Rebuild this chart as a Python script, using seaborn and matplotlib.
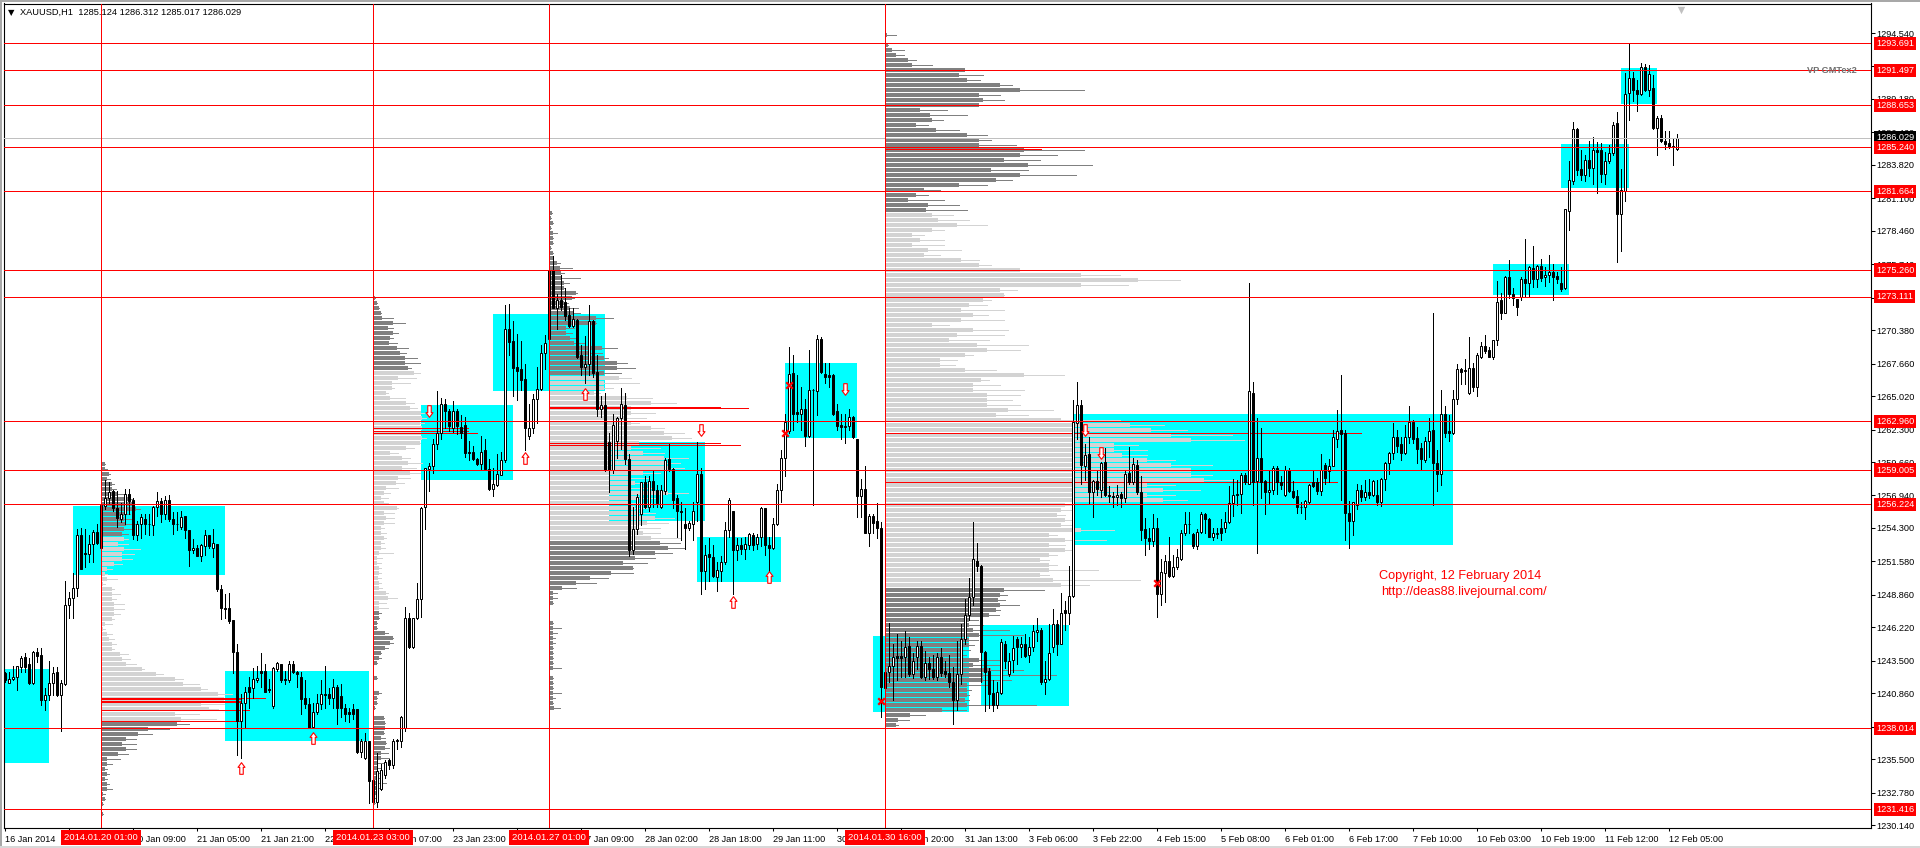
# XAUUSD H1 chart with volume profiles, rebuilt with seaborn
import numpy as np
import pandas as pd
import matplotlib
matplotlib.use("Agg")
import matplotlib.pyplot as plt
from matplotlib.path import Path
from matplotlib.patches import Rectangle
import seaborn as sns

sns.set_theme(style="ticks")
plt.rcParams['font.family'] = ['Liberation Sans', 'DejaVu Sans']

# quotes are kept as the part above 1200
PRICE_BASE = 1200

opens = [42.5,41.7,42.0,42.2,43.0,43.8,43.2,41.7,44.2,44.0,
40.3,40.7,41.7,42.6,40.7,41.6,48.0,48.6,49.4,53.7,
52.3,52.2,53.0,54.0,52.7,56.1,56.7,57.3,55.9,55.0,
55.4,57.1,56.6,53.7,54.6,55.0,54.6,54.5,56.0,56.5,
55.4,56.6,55.0,54.6,54.4,55.3,54.1,52.5,52.7,52.0,
52.8,53.7,52.7,53.0,49.3,47.8,47.8,46.8,44.2,38.6,
40.1,41.4,41.3,41.9,42.7,42.7,41.2,39.8,42.8,43.2,
42.0,41.9,43.2,42.6,42.2,40.5,40.0,38.1,39.3,40.0,
40.8,40.8,40.5,41.4,40.6,39.7,39.3,39.6,39.6,36.1,
35.6,37.0,33.8,32.0,33.1,34.2,35.4,35.0,37.0,37.0,
38.0,47.0,44.6,47.0,48.5,56.0,59.1,59.3,61.1,62.0,
64.4,63.8,62.4,63.8,62.5,62.7,60.5,60.5,59.9,59.5,
60.6,59.1,57.5,57.8,58.6,59.8,70.5,69.5,67.4,67.2,
66.4,61.8,62.4,64.8,65.6,68.5,69.7,75.3,72.2,72.8,
72.7,71.6,70.7,71.2,68.4,67.4,67.6,71.1,67.0,64.0,
64.3,61.3,59.0,61.4,63.2,64.3,59.9,52.5,54.2,55.4,
58.0,56.0,58.1,57.4,56.0,57.3,59.9,59.1,56.7,55.7,
54.6,54.3,54.6,56.4,58.7,50.8,52.2,51.9,50.3,50.8,
51.5,54.1,55.7,52.5,52.9,52.6,52.9,53.7,53.0,53.6,
55.9,52.9,52.7,54.6,57.4,60.0,62.2,66.9,63.7,63.6,
64.0,61.8,65.5,65.4,69.7,66.8,66.7,66.7,63.8,62.7,
62.5,62.6,63.3,61.5,56.9,57.5,53.9,55.3,54.9,54.3,
41.3,42.6,43.1,43.9,43.9,43.8,44.7,42.4,43.8,44.7,
42.2,43.3,42.8,42.2,43.8,42.7,42.5,41.8,40.3,42.4,
45.3,47.2,48.7,51.6,51.2,44.2,42.7,40.9,39.9,40.9,
44.9,42.4,43.6,45.3,44.6,44.9,44.0,44.6,45.8,46.0,
41.8,42.0,44.6,46.5,44.9,47.6,47.4,48.8,62.8,64.3,
59.3,60.3,57.2,58.1,57.4,59.7,57.0,56.9,56.8,57.1,
56.7,58.8,58.0,59.4,57.2,54.2,53.5,53.2,54.3,48.9,
50.6,51.6,50.4,51.1,51.8,53.9,54.6,53.8,52.8,54.0,
55.4,55.0,53.6,53.8,54.3,54.3,54.8,56.3,57.1,57.1,
58.6,57.9,65.3,58.1,60.0,58.1,57.2,57.4,59.2,58.0,
57.0,59.0,57.3,56.9,56.0,56.0,56.4,58.0,58.0,57.3,
59.4,58.9,59.3,61.5,62.3,62.0,55.5,54.9,56.2,57.4,
56.8,57.2,57.0,57.0,56.4,58.3,59.6,60.4,61.7,61.1,
60.4,61.7,62.9,61.6,60.8,59.8,61.4,62.3,59.6,58.7,
63.6,62.2,62.0,64.8,67.2,67.1,65.3,67.3,65.8,68.2,
69.1,68.8,68.2,69.6,72.8,71.8,74.7,73.3,72.9,73.1,
74.5,74.2,75.4,74.5,75.6,74.7,74.9,75.1,74.8,74.2,
73.8,80.1,82.5,86.7,83.5,83.0,84.2,83.6,85.0,85.0,
83.1,84.1,84.8,87.2,79.8,81.7,89.7,90.9,89.9,89.6,
91.8,89.9,90.1,86.8,87.6,85.8,85.6,85.3,85.12]

highs = [42.6,42.6,43.1,43.1,43.9,44.1,43.7,44.3,44.5,44.5,
41.3,43.5,43.0,43.0,41.9,50.0,49.1,50.6,54.2,54.3,
54.2,53.7,54.1,54.6,56.3,58.2,58.0,57.4,57.3,56.3,
57.5,57.5,56.7,54.9,55.4,55.4,55.4,56.1,57.2,56.7,
56.9,57.0,55.6,55.6,55.7,55.3,54.1,53.4,52.9,53.0,
54.1,53.7,54.2,53.0,49.7,48.9,49.0,46.8,44.9,40.8,
41.4,42.2,42.9,43.1,44.1,43.2,42.0,43.0,43.4,43.2,
42.7,43.5,43.5,42.7,42.6,41.9,40.5,40.1,40.8,41.9,
43.1,41.3,42.0,41.5,41.6,40.0,39.7,40.0,39.6,37.1,
37.6,37.0,35.1,36.0,35.1,35.4,35.5,37.1,37.1,39.0,
47.9,47.4,47.0,49.8,56.0,59.2,59.6,61.5,65.4,64.9,
64.8,64.0,64.6,64.0,63.5,63.3,61.4,61.0,60.0,61.8,
61.5,59.9,59.2,60.3,60.5,72.4,72.5,71.1,70.1,69.5,
67.6,64.4,65.2,67.4,69.2,70.0,75.4,76.4,73.3,74.9,
73.8,72.2,72.2,71.3,69.2,69.9,72.4,71.2,68.4,65.0,
65.3,62.0,63.6,63.3,65.7,65.3,60.3,56.0,57.1,58.0,
58.5,58.5,59.0,57.8,57.8,60.0,61.1,59.2,57.0,56.4,
55.9,54.9,56.4,61.3,59.2,52.9,53.5,52.9,51.5,52.0,
54.8,56.7,55.7,53.5,53.5,53.6,53.9,53.9,53.8,56.0,
55.9,53.6,55.1,57.9,60.6,63.6,69.0,68.4,66.7,65.8,
64.8,68.8,65.6,70.0,69.8,67.7,67.7,66.8,64.4,63.6,
63.6,64.0,63.4,61.5,58.3,59.3,55.4,55.4,56.3,54.8,
46.6,46.6,44.9,45.7,45.1,45.9,45.4,44.1,45.1,45.1,
44.3,43.8,44.0,44.1,44.5,43.5,44.0,43.0,45.1,46.5,
48.5,50.2,54.8,53.1,51.3,44.3,42.9,41.9,41.8,45.3,
45.1,44.1,45.5,45.4,45.4,45.7,45.4,46.4,47.0,46.2,
43.5,46.5,47.7,46.8,49.0,48.4,51.2,64.7,66.2,64.7,
61.1,61.7,58.2,58.9,59.7,60.8,57.7,57.2,57.8,57.2,
58.9,60.9,60.0,59.8,58.5,55.1,54.3,55.4,55.1,51.8,
52.1,53.6,52.1,52.6,54.1,55.6,55.6,53.9,54.2,55.6,
55.5,55.1,54.3,54.3,55.0,55.6,57.7,58.3,58.2,58.8,
58.8,74.2,66.2,63.2,62.4,58.2,58.9,59.3,59.3,58.5,
59.3,59.2,58.1,57.4,56.4,56.6,57.9,59.0,58.4,60.3,
59.6,59.9,62.3,63.9,66.7,62.3,56.5,56.4,57.9,57.8,
58.2,58.3,58.2,58.2,58.4,59.7,60.5,62.8,62.3,61.7,
62.7,64.2,63.1,62.5,61.2,61.7,63.2,71.8,60.6,65.5,
64.2,63.5,65.5,67.6,67.3,68.0,69.8,67.7,68.5,69.4,
70.0,69.0,69.6,74.4,73.4,74.8,76.1,73.8,72.9,74.7,
77.8,75.6,77.2,75.7,76.2,75.5,76.5,75.8,75.1,75.5,
80.2,84.1,87.3,86.8,85.0,84.6,85.8,86.1,85.7,85.6,
84.9,85.4,87.3,88.1,83.5,91.3,93.7,91.4,90.7,92.1,
92.0,91.9,91.1,87.8,87.9,86.6,86.6,85.9,86.31]

lows = [41.8,41.7,41.9,41.1,42.6,42.6,41.6,41.6,43.4,39.9,
39.5,40.3,40.7,40.6,37.8,41.5,47.0,47.0,48.8,51.0,
51.1,51.5,51.5,53.0,52.7,55.8,56.3,55.7,54.4,54.8,
54.6,55.4,53.4,53.3,53.5,53.8,53.7,53.7,55.3,54.8,
55.0,54.9,53.8,54.1,54.2,53.5,51.2,52.3,52.0,51.6,
52.1,52.7,51.9,49.2,46.9,47.0,46.6,42.5,35.8,35.6,
38.0,39.7,40.5,41.8,41.4,41.0,41.0,39.7,42.7,41.8,
41.6,41.8,42.5,41.4,39.2,39.7,38.0,38.0,39.2,39.6,
39.7,40.0,39.7,38.4,38.9,38.6,38.5,38.8,36.0,35.7,
35.5,31.9,31.9,31.6,33.0,34.0,34.7,34.8,36.3,36.5,
37.8,44.5,44.5,46.9,47.1,54.2,57.3,58.8,60.7,61.5,
62.4,62.2,62.1,61.9,61.6,60.1,59.8,59.8,59.4,59.1,
59.1,57.4,56.9,57.7,58.6,59.7,68.4,65.0,64.7,65.5,
60.6,61.5,62.0,62.8,65.5,67.2,69.6,72.2,70.5,72.0,
71.2,70.6,70.6,68.1,66.7,66.1,66.7,66.6,63.4,63.3,
58.9,57.2,58.8,60.0,60.7,59.5,52.0,52.2,53.8,54.5,
55.9,55.7,56.0,56.0,55.9,57.1,58.9,55.9,53.6,53.3,
52.6,54.1,53.3,54.9,48.9,49.3,50.0,50.3,49.2,50.0,
51.4,53.6,48.9,51.7,52.2,51.8,52.6,52.5,52.6,52.8,
52.1,50.8,52.6,54.5,56.4,58.5,62.0,62.3,62.9,62.3,
61.0,61.7,56.2,63.5,66.9,66.1,65.8,63.5,62.3,61.5,
61.2,62.3,61.6,55.2,55.2,53.9,52.8,53.9,53.5,38.9,
40.5,41.8,40.3,41.9,42.2,42.2,42.3,42.1,42.8,42.1,
41.9,42.0,42.0,41.9,42.3,42.2,41.4,38.4,39.5,41.6,
44.9,46.8,48.0,50.8,41.8,39.4,39.7,39.4,39.7,40.8,
42.9,42.3,42.6,43.2,43.8,43.8,43.4,44.3,45.1,41.6,
40.8,41.9,44.2,44.0,44.9,46.0,46.5,48.7,61.5,57.9,
58.2,56.3,55.2,57.0,56.8,56.9,56.4,56.0,56.2,56.0,
56.4,57.9,57.9,57.1,53.3,52.1,52.6,52.8,47.1,48.0,
48.3,50.3,50.3,51.0,51.7,53.7,53.9,52.7,52.6,53.9,
53.9,53.6,53.3,53.5,53.3,54.0,54.7,55.3,56.2,55.5,
57.9,57.9,56.2,52.3,56.7,55.4,56.3,57.1,57.1,57.5,
56.9,57.2,56.7,55.5,55.5,55.0,56.3,57.6,57.1,57.0,
57.9,58.0,59.3,60.9,56.6,53.3,52.7,53.7,55.8,56.5,
56.6,56.7,56.9,56.2,56.1,57.4,58.7,59.9,60.5,59.8,
60.3,61.2,61.2,59.6,59.1,59.7,60.1,56.2,57.3,57.8,
61.7,61.4,61.9,64.4,66.0,66.0,65.2,65.4,65.0,68.1,
68.5,68.2,68.0,69.2,71.3,71.8,73.0,72.4,71.6,72.8,
73.1,73.1,73.9,73.9,74.4,74.0,74.3,72.8,74.2,73.6,
73.7,78.5,82.3,83.0,82.6,82.5,82.9,82.3,81.5,82.4,
82.3,84.0,84.6,75.9,76.8,80.9,87.5,89.0,88.2,89.5,
89.8,89.4,86.7,84.6,85.7,85.1,85.2,83.8,85.02]

closes = [41.9,42.0,42.2,43.1,43.7,43.0,41.7,44.2,43.9,40.3,
40.7,41.7,42.5,40.7,41.7,48.0,48.6,49.4,53.7,51.0,
52.2,53.0,54.0,53.1,56.2,56.7,57.2,55.9,55.1,55.4,
57.1,56.5,53.7,54.6,55.2,54.6,54.6,56.0,56.5,55.4,
56.6,55.0,54.6,54.6,55.2,54.1,52.5,52.7,52.0,52.9,
53.7,52.8,53.1,49.3,47.8,47.7,46.7,44.2,38.6,40.1,
41.0,41.0,42.0,42.1,42.5,41.0,41.1,42.9,43.3,41.9,
41.9,43.2,42.6,42.4,40.4,40.0,38.0,39.3,40.1,40.8,
40.7,40.5,41.4,39.7,39.7,39.2,39.2,39.2,36.1,37.0,
37.0,33.7,32.0,34.5,34.6,35.3,35.0,37.0,37.0,38.9,
47.0,44.6,47.0,48.5,55.9,59.2,59.3,61.1,62.0,64.4,
63.8,62.6,63.8,62.6,62.0,60.4,60.4,59.9,59.5,60.5,
59.1,57.5,57.9,58.7,59.8,70.5,69.4,67.3,67.1,66.3,
62.4,62.4,64.8,65.6,68.5,69.3,75.3,72.2,72.8,72.3,
71.5,70.7,71.3,68.2,67.4,67.6,71.1,66.9,64.0,64.3,
59.0,59.0,62.7,63.2,64.4,59.9,52.5,54.2,56.8,58.0,
56.0,58.1,57.4,56.3,57.4,59.8,59.1,56.6,55.7,55.6,
54.3,54.7,55.7,58.7,50.8,52.1,51.9,50.4,50.9,51.5,
54.1,56.6,52.5,52.9,52.6,53.0,53.8,52.9,53.6,55.9,
52.9,52.7,54.6,57.4,60.0,62.9,66.8,63.6,63.6,64.0,
61.8,65.5,65.5,69.7,67.0,66.6,66.6,63.6,62.6,62.5,
62.6,63.3,61.7,56.9,57.5,53.9,55.3,54.7,54.3,41.4,
42.6,43.1,43.8,43.7,43.7,44.6,42.4,43.5,44.7,42.2,
43.3,42.8,42.2,43.8,42.5,42.4,41.8,40.3,42.4,45.3,
47.2,48.7,51.8,51.2,44.2,42.6,40.8,39.9,41.0,45.0,
43.5,43.5,44.5,44.6,44.9,43.9,44.6,45.9,46.0,41.8,
42.0,44.1,46.5,44.9,47.4,47.4,48.8,62.9,64.3,59.4,
60.2,57.2,58.1,57.5,59.6,57.0,56.9,56.8,57.0,56.7,
58.7,58.0,59.5,57.2,54.1,53.5,53.2,54.3,48.9,50.7,
51.6,50.4,51.1,51.9,53.9,54.6,54.6,52.8,54.0,55.4,
55.0,53.6,53.9,53.9,53.9,54.8,56.3,57.0,57.0,58.6,
58.0,65.4,58.0,60.0,58.0,57.2,57.4,59.2,58.0,57.8,
59.0,57.3,56.8,56.0,56.0,56.5,57.8,57.7,57.3,59.0,
58.4,59.3,61.7,62.2,61.9,55.5,54.9,56.4,57.4,56.8,
57.2,57.0,58.1,56.4,58.3,59.6,60.4,61.7,61.0,60.4,
61.7,62.9,61.5,60.7,59.9,61.4,62.2,59.6,58.7,63.6,
62.0,62.0,64.8,67.2,67.0,67.1,67.3,65.8,68.4,69.1,
68.7,68.2,69.6,72.7,71.8,74.7,73.3,73.0,72.3,74.5,
74.2,75.5,74.5,75.6,74.6,74.9,75.1,74.7,74.5,73.7,
80.2,82.6,86.7,83.4,83.0,84.2,83.6,85.0,84.9,83.1,
84.1,84.8,87.1,79.8,81.8,89.6,90.9,89.9,89.6,91.8,
89.9,91.2,86.8,87.6,85.8,85.5,85.3,85.3,86.03]

# volume profiles: thick = level volume, thin = longest spike of that level
prof1_thick = [8,8,18,15,25,25,40,65,75,85,55,55,60,55,50,
55,40,55,50,50,30,15,10,15,5,25,25,25,30,30,30,25,10,5,15,20,25,25,45,50,60,100,135,180,200,245,285,300,245,265,180,195,
185,115,90,60,50,60,40,15,15,8,15,10,15,15,5,8,4,0,3]
prof1_thin = [8,15,22,22,30,35,55,75,90,95,70,80,85,75,65,
65,65,95,80,75,50,25,15,38,10,30,45,35,55,55,45,30,25,10,25,30,35,30,65,70,85,105,150,200,240,260,320,340,300,285,240,280,
215,165,125,85,85,85,65,45,25,15,20,15,20,25,8,8,4,0,3]
prof2_thick = [3,8,15,18,22,48,35,48,40,38,58,65,78,78,85,
100,60,45,45,30,40,80,90,118,120,115,120,118,120,115,80,40,70,85,70,90,60,55,30,25,20,25,58,25,30,25,20,20,25,20,20,15,10,10,15,15,12,15,15,30,35,15,15,
15,15,10,8,28,48,40,28,20,15,8,0,0,8,0,0,15,8,8,5,0,25,28,28,25,20,30,28,20,20,12,10,15,10,8,8,8,5,5]
prof2_thin = [3,8,15,18,48,78,48,60,48,58,85,80,108,115,92,
115,105,90,50,35,78,100,108,125,130,125,130,128,130,115,100,60,90,120,105,115,90,75,60,40,35,35,60,50,50,50,25,30,30,25,28,48,22,18,18,20,18,20,22,35,58,30,35,
18,15,10,8,35,48,48,35,20,18,8,0,0,8,0,0,18,8,8,5,0,25,28,28,25,28,30,38,35,38,25,20,20,20,30,15,8,5,5]
prof3_thick = [6,4,8,5,8,8,8,5,8,10,18,25,28,30,35,35,65,55,35,50,58,115,115,40,40,50,60,130,100,135,165,165,135,
170,135,135,110,190,250,200,200,190,200,250,280,300,220,200,230,280,280,290,230,200,210,200,290,220,200,210,220,260,240,220,230,250,
270,290,260,210,180,205,150,100,65,30,10,10,8,0,0,0,8,10,8,10,10,8,8,10,8,8,0,8,8,8,10,8,8,12]
prof3_thin = [6,4,8,5,18,8,8,5,8,10,25,55,35,75,48,38,68,60,45,70,75,155,115,60,55,65,85,165,130,145,190,210,175,
200,220,155,125,251,311,300,260,236,220,281,331,346,271,271,281,341,321,331,271,241,240,250,341,260,250,240,260,306,291,271,271,321,
321,330,300,260,240,205,205,145,115,65,20,20,8,0,0,0,8,28,20,15,15,8,8,10,8,28,0,8,8,8,28,15,8,25]
prof4_thick = [3,0,7,17,27,55,65,195,180,200,280,330,230,240,230,85,110,115,75,125,200,230,230,340,330,290,350,260,330,270,180,95,75,55,105,100,
115,130,175,115,65,85,65,105,95,185,230,330,480,620,480,280,290,240,205,185,215,185,115,215,175,155,225,250,195,135,135,195,340,235,215,215,250,250,250,300,270,430,
600,650,700,750,560,560,580,640,700,750,750,780,640,680,640,680,440,430,420,440,430,480,400,440,400,440,400,380,400,400,380,410,430,
290,280,275,280,270,255,205,205,215,230,205,205,188,188,230,215,260,240,240,200,200,200,195,200,140,60,30,25]
prof4_thin = [27,0,7,45,45,75,115,213,240,232,310,487,280,290,232,150,200,142,105,180,250,260,320,487,420,380,507,350,468,310,250,135,105,145,180,200,
165,205,250,145,95,145,145,185,135,230,260,370,575,722,595,322,290,260,250,290,252,290,155,300,290,255,350,330,215,175,170,272,438,255,280,340,330,310,330,410,350,575,
683,738,850,878,620,640,640,710,800,840,800,860,710,770,710,740,460,458,440,455,460,560,420,540,440,458,420,400,420,520,400,625,500,
390,298,293,328,282,278,228,240,303,338,228,218,208,198,278,278,338,418,308,250,210,205,205,368,198,98,58,30]

# session bar, top price and length of the dark/light/dark parts of each profile
profile_bars = [24, 92, 136, 220]
profile_tops = [1259.5, 1273.0, 1279.9, 1294.4]
profile_dark_top = [15, 15, 33, 36]
profile_light = [37, 48, 33, 75]

# point of control lines: session bar, price, volume
poc_bars = [24,24,24,24,24,24,92,92,92,136,136,136,136,220,220,220]
poc_prices = [1240.5,1240.4,1240.27,1240.16,1239.5,1238.6,1262.4,1262.2,1262.0,1264.17,1264.03,1261.19,1261.03,1262.0,1258.0,1285.1]
poc_vols = [402,342,342,342,362,342,232,232,253,419,488,419,468,1165,1107,381]

# cyan zones: first bar, last bar, top and bottom price
zone_left = [-1,16.9,54.9,103.9,122,150.9,172.9,194.9,217,244,267,372,389,404]
zone_right = [10.9,54.9,90.9,127,150,174.8,194,212.9,241,266,362,391,406,413]
zone_top = [1242.84,1256.1,1242.7,1264.3,1271.7,1261.3,1253.6,1267.7,1245.5,1246.4,1263.6,1275.8,1285.5,1291.7]
zone_bottom = [1235.2,1250.5,1237.0,1258.2,1265.4,1254.9,1249.9,1261.6,1239.3,1239.8,1252.9,1273.2,1281.9,1288.8]

level_prices = [1293.691,1291.497,1288.653,1285.240,1281.664,1275.260,1273.111,1262.960,1259.005,1256.224,1238.014,1231.416]
level_labels = ['1293.691','1291.497','1288.653','1285.240','1281.664','1275.260','1273.111','1262.960','1259.005','1256.224','1238.014','1231.416']
last_price = 1286.029

session_labels = ['2014.01.20 01:00','2014.01.23 03:00','2014.01.27 01:00','2014.01.30 16:00']

arrow_up_bars = [59,77,130,145,182,191]
arrow_up_prices = [1234.8,1237.2,1260.0,1265.2,1248.3,1250.3]
arrow_down_bars = [106,174,210,270,274]
arrow_down_prices = [1263.8,1262.3,1265.6,1262.3,1260.4]
cross_bars = [196,195,219,288]
cross_prices = [1265.9,1262.0,1240.25,1249.8]

y_ticks = [1294.54,1291.82,1289.18,1286.46,1283.82,1281.10,1278.46,1275.74,1273.02,1270.38,1267.66,1265.02,1262.30,
           1259.66,1256.94,1254.30,1251.58,1248.86,1246.22,1243.50,1240.86,1238.14,1235.50,1232.78,1230.14]
# two of the labels sit fully behind the red session dates
x_labels = ['16 Jan 2014','','20 Jan 09:00','21 Jan 05:00','21 Jan 21:00','22 Jan 13:00','23 Jan 07:00',
            '23 Jan 23:00','','27 Jan 09:00','28 Jan 02:00','28 Jan 18:00','29 Jan 11:00','30 Jan 03:00',
            '30 Jan 20:00','31 Jan 13:00','3 Feb 06:00','3 Feb 22:00','4 Feb 15:00','5 Feb 08:00','6 Feb 01:00',
            '6 Feb 17:00','7 Feb 10:00','10 Feb 03:00','10 Feb 19:00','11 Feb 12:00','12 Feb 05:00']

# one zoom tick of volume is drawn as about a tenth of a bar
VOL_SCALE = 1 / 9.8
LEVEL_STEP = 0.4065
FONT = 6.6
HAIR = 0.5

W, H = 1920, 848
fig = plt.figure(figsize=(W / 100, H / 100), dpi=100, facecolor='white')
ax = fig.add_axes([4 / W, 1 - 828.3 / H, 1866.5 / W, 824.8 / H])

# window edges
fig.add_artist(Rectangle((0, 0), 2 / W, 1, transform=fig.transFigure, color='#A8A8A8', lw=0))
fig.add_artist(Rectangle((0, 1 - 2 / H), 1, 2 / H, transform=fig.transFigure, color='#A8A8A8', lw=0))
fig.add_artist(Rectangle((0, 0), 1, 2 / H, transform=fig.transFigure, color='#D8D8D8', lw=0))

for left, right, top, bottom in zip(zone_left, zone_right, zone_top, zone_bottom):
    ax.add_patch(Rectangle((left, bottom), right - left, top - bottom, color='#00FFFF', lw=0, zorder=1))

# volume profiles
profiles = [(prof1_thick, prof1_thin), (prof2_thick, prof2_thin), (prof3_thick, prof3_thin), (prof4_thick, prof4_thin)]
for k, (thick, thin) in enumerate(profiles):
    levels = profile_tops[k] - LEVEL_STEP * np.arange(len(thick))
    colors = np.array(['#808080'] * len(thick), dtype=object)
    first = profile_dark_top[k]
    colors[first:first + profile_light[k]] = '#D3D3D3'
    ax.barh(levels, np.array(thick) * VOL_SCALE, left=profile_bars[k], height=0.3,
            color=list(colors), lw=0, zorder=2)
    ax.hlines(levels, profile_bars[k], profile_bars[k] + np.array(thin) * VOL_SCALE,
              colors=list(colors), lw=HAIR, antialiased=False, zorder=2)

for bar, price, vol in zip(poc_bars, poc_prices, poc_vols):
    ax.hlines(price, bar, bar + vol * VOL_SCALE, colors='red', lw=HAIR, antialiased=False, zorder=2.5)

# candles
candles = pd.DataFrame({'bar': np.arange(len(opens)), 'open': opens, 'high': highs, 'low': lows, 'close': closes})
candles[['open', 'high', 'low', 'close']] += PRICE_BASE
wicks = candles.melt(id_vars='bar', value_vars=['high', 'low'], value_name='price')
sns.lineplot(data=wicks, x='bar', y='price', units='bar', estimator=None, color='black', lw=HAIR,
             legend=False, antialiased=False, ax=ax, zorder=3)
bottoms = candles[['open', 'close']].min(axis=1)
heights = (candles['close'] - candles['open']).abs().clip(lower=0.03)
faces = ['white' if c >= o else 'black' for o, c in zip(candles['open'], candles['close'])]
ax.bar(candles['bar'], heights, bottom=bottoms, width=0.5, color=faces, edgecolor='black', lw=0.72, zorder=3.2)

# horizontal and session lines
ax.axhline(last_price, color='#C0C0C0', lw=HAIR, antialiased=False, zorder=3.5)
for price in level_prices:
    ax.axhline(price, color='red', lw=HAIR, antialiased=False, zorder=4)
for bar in profile_bars:
    ax.axvline(bar, color='red', lw=HAIR, antialiased=False, zorder=4)

# signals
up_arrow = Path([(0, 1), (0.6, 0.2), (0.3, 0.2), (0.3, -1), (-0.3, -1), (-0.3, 0.2), (-0.6, 0.2), (0, 1)], closed=True)
down_arrow = Path([(0, -1), (0.6, -0.2), (0.3, -0.2), (0.3, 1), (-0.3, 1), (-0.3, -0.2), (-0.6, -0.2), (0, -1)], closed=True)
sns.scatterplot(x=arrow_up_bars, y=arrow_up_prices, marker=up_arrow, s=70, color='white', edgecolor='red',
                linewidth=0.8, legend=False, ax=ax, zorder=5)
sns.scatterplot(x=arrow_down_bars, y=arrow_down_prices, marker=down_arrow, s=70, color='white', edgecolor='red',
                linewidth=0.8, legend=False, ax=ax, zorder=5)
sns.scatterplot(x=cross_bars, y=cross_prices, marker='x', s=22, color='red', linewidth=1.6, legend=False, ax=ax, zorder=5)
sns.scatterplot(x=[419], y=[1296.4], marker='v', s=28, color='#C0C0C0', linewidth=0, legend=False, ax=ax, zorder=5)

ax.set_xlim(-0.325, 466.3)
ax.set_ylim(1229.88, 1296.94)
ax.set_xlabel('')
ax.set_ylabel('')
for side in ax.spines.values():
    side.set_color('black')
    side.set_linewidth(0.8)
    side.set_visible(True)

ax.yaxis.tick_right()
ax.set_yticks(y_ticks)
ax.set_yticklabels([f'{t:.3f}' for t in y_ticks])
ax.tick_params(axis='y', length=3, width=0.75, pad=1.5, labelsize=FONT, colors='black')
ax.set_xticks(np.arange(len(x_labels)) * 16)
ax.set_xticklabels(x_labels, ha='left')
ax.tick_params(axis='x', length=2.5, width=0.75, pad=2.5, labelsize=FONT, colors='black')

# price tags on the right
trans = ax.get_yaxis_transform()
for price, label in zip(level_prices, level_labels):
    ax.text(1.0029, price, label, transform=trans, va='center', ha='left', color='white', fontsize=FONT,
            bbox=dict(facecolor='red', edgecolor='none', pad=1.6), clip_on=False, zorder=10)
ax.text(1.0029, last_price, f'{last_price:.3f}', transform=trans, va='center', ha='left', color='white', fontsize=FONT,
        bbox=dict(facecolor='black', edgecolor='none', pad=1.6), clip_on=False, zorder=9)

# session dates on the bottom
xtrans = ax.get_xaxis_transform()
for bar, label in zip(profile_bars, session_labels):
    ax.annotate(label, xy=(bar, 0), xycoords=xtrans, xytext=(0, -9), textcoords='offset pixels', ha='center', va='center',
                color='white', fontsize=FONT + 0.2, annotation_clip=False,
                bbox=dict(facecolor='red', edgecolor='none', pad=2.2), zorder=10)

# header and captions
ax.annotate('\u25bc', xy=(0, 1), xycoords='axes fraction', xytext=(4, -9), textcoords='offset pixels',
            va='center', fontsize=6, family='DejaVu Sans', color='black', zorder=10)
ax.annotate('XAUUSD,H1  1285.124 1286.312 1285.017 1286.029', xy=(0, 1), xycoords='axes fraction', xytext=(16, -9),
            textcoords='offset pixels', va='center', fontsize=FONT + 0.1, color='black', zorder=10)
ax.text(450.4, 1291.5, 'VP GMTex2', ha='left', va='center', fontsize=FONT, color='#707070', fontweight='bold', zorder=6)
ax.text(343.4, 1250.4, 'Copyright, 12 February 2014', color='red', fontsize=9.2, va='center', zorder=6)
ax.text(344, 1249.1, 'http://deas88.livejournal.com/', color='red', fontsize=9.2, va='center', zorder=6)

fig.savefig('out.png', dpi=100, facecolor='white')
